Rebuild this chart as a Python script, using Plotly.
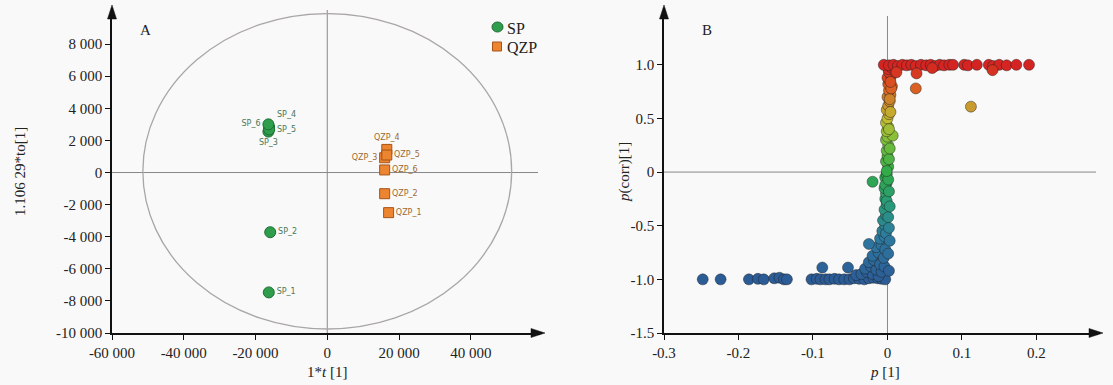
import plotly.graph_objects as go

W, H = 1113, 385

# ---------------- Panel A data ----------------
sp_names = ["SP_1", "SP_2", "SP_3", "SP_4", "SP_5", "SP_6"]
sp_t = [-16300, -15900, -16400, -16200, -16200, -16400]
sp_to = [-7470, -3720, 2550, 2830, 2680, 3000]
sp_textpos = ["middle right", "middle right", "bottom center", "top right", "middle right", "middle left"]

qzp_names = ["QZP_1", "QZP_2", "QZP_3", "QZP_4", "QZP_5", "QZP_6"]
qzp_t = [17100, 16000, 16000, 16600, 16600, 16000]
qzp_to = [-2500, -1320, 920, 1440, 1090, 160]
qzp_textpos = ["middle right", "middle right", "middle left", "top center", "middle right", "middle right"]

a_xticks = [-60000, -40000, -20000, 0, 20000, 40000]
a_xticklabels = ["-60 000", "-40 000", "-20 000", "0", "20 000", "40 000"]
a_yticks = [-10000, -8000, -6000, -4000, -2000, 0, 2000, 4000, 6000, 8000]
a_yticklabels = ["-10 000", "-8 000", "-6 000", "-4 000", "-2 000", "0", "2 000", "4 000", "6 000", "8 000"]

# ---------------- Panel B data (S-plot) ----------------
p_bottom = [-0.248, -0.224, -0.186, -0.174, -0.166, -0.152, -0.145, -0.139, -0.135,
            -0.102, -0.095, -0.090, -0.083, -0.078, -0.071, -0.065, -0.058, -0.051,
            -0.045, -0.038, -0.031, -0.025, -0.019, -0.013, -0.008, -0.003]
pc_bottom = [-1.0, -1.0, -1.0, -0.995, -1.0, -0.99, -0.985, -1.0, -1.0,
             -1.0, -0.995, -1.0, -1.0, -1.0, -0.995, -1.0, -1.0, -1.0,
             -0.99, -0.995, -1.0, -0.99, -0.985, -0.99, -0.995, -1.0]

p_low = [-0.0875, -0.053, -0.042, -0.035, -0.028, -0.020, -0.012, -0.030, -0.022, -0.015,
         -0.008, -0.025, -0.018, -0.010, -0.004, -0.020, -0.012, -0.005, -0.015, -0.025,
         -0.008, -0.003, -0.010, -0.004, -0.007, -0.003, -0.006, -0.002, -0.004, -0.001,
         -0.003, -0.002, -0.004, -0.001, -0.003, -0.001, -0.020, -0.002, -0.001, -0.003,
         0.002, 0.001, 0.003, 0.002, 0.001, 0.003, 0.002, 0.001]
pc_low = [-0.89, -0.89, -0.96, -0.95, -0.93, -0.95, -0.97, -0.90, -0.88, -0.91,
          -0.93, -0.84, -0.82, -0.86, -0.88, -0.78, -0.75, -0.80, -0.70, -0.67,
          -0.68, -0.72, -0.62, -0.60, -0.55, -0.50, -0.45, -0.40, -0.35, -0.30,
          -0.25, -0.20, -0.15, -0.10, -0.05, -0.02, -0.09, -0.57, -0.27, -0.12,
          -0.92, -0.76, -0.64, -0.52, -0.42, -0.32, -0.18, -0.07]

p_high = [0.001, -0.002, 0.000, -0.001, 0.001, -0.002, 0.000, 0.007, -0.001, 0.001,
          -0.002, 0.000, 0.002, -0.001, 0.001, 0.003, 0.000, 0.004, 0.002, 0.006,
          0.001, 0.003, 0.000, 0.005, 0.002, 0.008, 0.001, 0.004, -0.001, 0.002,
          0.003, 0.002, 0.004, 0.003, 0.005, 0.004]
pc_high = [0.05, 0.10, 0.15, 0.20, 0.25, 0.30, 0.33, 0.34, 0.38, 0.42,
           0.46, 0.50, 0.54, 0.58, 0.62, 0.66, 0.70, 0.72, 0.76, 0.80,
           0.82, 0.86, 0.88, 0.90, 0.93, 0.95, 0.96, 0.98, 0.01, 0.12,
           0.22, 0.40, 0.56, 0.68, 0.78, 0.84]

p_top = [-0.005, 0.002, 0.008, 0.014, 0.020, 0.026, 0.032, 0.038, 0.045, 0.052,
         0.058, 0.064, 0.070, 0.076, 0.083, 0.088, 0.103, 0.108, 0.120, 0.136,
         0.142, 0.150, 0.160, 0.173, 0.190, 0.039, 0.141, 0.060, 0.012, 0.038, 0.112]
pc_top = [1.0, 0.995, 1.0, 0.99, 1.0, 0.995, 1.0, 0.99, 1.0, 0.995,
          1.0, 0.99, 1.0, 0.995, 1.0, 1.0, 1.0, 0.995, 1.0, 1.0,
          0.99, 1.0, 0.995, 1.0, 1.0, 0.92, 0.95, 0.97, 0.93, 0.78, 0.61]

b_xticks = [-0.3, -0.2, -0.1, 0, 0.1, 0.2]
b_xticklabels = ["-0.3", "-0.2", "-0.1", "0", "0.1", "0.2"]
b_yticks = [-1.5, -1.0, -0.5, 0, 0.5, 1.0]
b_yticklabels = ["-1.5", "-1.0", "-0.5", "0", "0.5", "1.0"]

legend_names = ["SP", "QZP"]

p_all = p_bottom + p_low + p_high + p_top
pc_all = pc_bottom + pc_low + pc_high + pc_top

# ---------------- geometry helpers ----------------
def px(x):
    return x / W

def py(y):
    return (H - y) / H

SERIF = "Liberation Serif"
TICKFONT = dict(family=SERIF, size=15, color="#222")

fig = go.Figure()

# Panel A traces
fig.add_trace(go.Scatter(
    x=sp_t, y=sp_to, mode="markers+text", name=legend_names[0], showlegend=False,
    text=sp_names, textposition=sp_textpos,
    textfont=dict(family="DejaVu Sans", size=8, color="#4a7858"),
    marker=dict(symbol="circle", size=11, color="#2f9e4c", line=dict(color="#1d6b33", width=1)),
    xaxis="x", yaxis="y"))
fig.add_trace(go.Scatter(
    x=qzp_t, y=qzp_to, mode="markers+text", name=legend_names[1], showlegend=False,
    text=qzp_names, textposition=qzp_textpos,
    textfont=dict(family="DejaVu Sans", size=8, color="#a06a30"),
    marker=dict(symbol="square", size=10, color="#ec8430", line=dict(color="#a65418", width=1)),
    xaxis="x", yaxis="y"))

# Panel B trace
colorscale = [
    [0.0, "#2c5c96"], [0.2, "#2d7aa0"], [0.35, "#2a9a78"], [0.5, "#30aa48"],
    [0.65, "#7cc03a"], [0.75, "#c2bc30"], [0.83, "#cc8a2c"], [0.9, "#dc5a22"], [1.0, "#d42422"]]
fig.add_trace(go.Scatter(
    x=p_all, y=pc_all, mode="markers", showlegend=False,
    marker=dict(size=11, color=pc_all, cmin=-1, cmax=1, colorscale=colorscale,
                line=dict(color="rgba(30,30,30,0.45)", width=1)),
    xaxis="x2", yaxis="y2"))

a_xdom = [px(112), px(540)]
b_xdom = [px(664), px(1098)]
ydom = [py(333), py(13)]

axis_common = dict(showgrid=False, zeroline=False, showline=True, linecolor="#111", linewidth=1.5,
                   ticks="outside", ticklen=5, tickcolor="#111", tickwidth=1.2, tickfont=TICKFONT,
                   automargin=False)

fig.update_layout(
    width=W, height=H, margin=dict(l=0, r=0, t=0, b=0, autoexpand=False),
    font=dict(family=SERIF, size=15, color="#222"),
    paper_bgcolor="#f9f9f9", plot_bgcolor="#f9f9f9",
    xaxis=dict(domain=a_xdom, range=[-60000, 59300], tickvals=a_xticks, ticktext=a_xticklabels,
               anchor="y", **axis_common),
    yaxis=dict(domain=ydom, range=[-10000, 9940], tickvals=a_yticks, ticktext=a_yticklabels,
               anchor="x", **axis_common),
    xaxis2=dict(domain=b_xdom, range=[-0.3, 0.2826], tickvals=b_xticks, ticktext=b_xticklabels,
                anchor="y2", **axis_common),
    yaxis2=dict(domain=ydom, range=[-1.5, 1.483], tickvals=b_yticks, ticktext=b_yticklabels,
                anchor="x2", **axis_common),
    showlegend=False,
)

shapes = []
# Panel A ellipse
shapes.append(dict(type="circle", xref="x", yref="y", x0=-51400, x1=51400, y0=-9750, y1=9900,
                   line=dict(color="#aaa6a8", width=1.3), layer="below"))
# zero lines A
shapes.append(dict(type="line", xref="x", yref="paper", x0=0, x1=0, y0=py(333), y1=py(10),
                   line=dict(color="#888", width=1), layer="below"))
shapes.append(dict(type="line", xref="paper", yref="y", x0=px(112), x1=px(538), y0=0, y1=0,
                   line=dict(color="#888", width=1), layer="below"))
# zero lines B
shapes.append(dict(type="line", xref="x2", yref="paper", x0=0, x1=0, y0=py(333), y1=py(16),
                   line=dict(color="#888", width=1), layer="below"))
shapes.append(dict(type="line", xref="paper", yref="y2", x0=px(664), x1=px(1096), y0=0, y1=0,
                   line=dict(color="#888", width=1), layer="below"))

def tri_up(x, y_tip):
    return dict(type="path", xref="paper", yref="paper",
                path=f"M {px(x)},{py(y_tip)} L {px(x-4.5)},{py(y_tip+14)} L {px(x+4.5)},{py(y_tip+14)} Z",
                fillcolor="#111", line=dict(color="#111", width=0.5))

def tri_right(x_tip, y):
    return dict(type="path", xref="paper", yref="paper",
                path=f"M {px(x_tip)},{py(y)} L {px(x_tip-14)},{py(y-4.5)} L {px(x_tip-14)},{py(y+4.5)} Z",
                fillcolor="#111", line=dict(color="#111", width=0.5))

shapes += [tri_up(112, 5), tri_right(545, 333), tri_up(664, 5), tri_right(1103, 333)]

# manual legend marks
shapes.append(dict(type="circle", xref="paper", yref="paper",
                   x0=px(492), x1=px(503), y0=py(32), y1=py(22),
                   fillcolor="#2f9e4c", line=dict(color="#1d6b33", width=1)))
shapes.append(dict(type="rect", xref="paper", yref="paper",
                   x0=px(492.5), x1=px(501.5), y0=py(51), y1=py(42),
                   fillcolor="#ec8430", line=dict(color="#a65418", width=1)))
fig.update_layout(shapes=shapes)

def ann(text, x, y, size=15, xanchor="center", angle=0):
    return dict(text=text, x=px(x), y=py(y), xref="paper", yref="paper", showarrow=False,
                xanchor=xanchor, yanchor="middle", textangle=angle,
                font=dict(family=SERIF, size=size, color="#222"))

annotations = [
    ann(legend_names[0], 505, 28, 16, "left"),
    ann(legend_names[1], 505, 47, 16, "left"),
    ann("A", 145, 30),
    ann("B", 707, 30),
    ann("1*<i>t</i> [1]", 327, 372),
    ann("1.106 29*to[1]", 20, 172, angle=-90),
    ann("<i>p</i> [1]", 885, 372),
    ann("<i>p</i>(corr)[1]", 624, 172, angle=-90),
]
fig.update_layout(annotations=annotations)

fig.write_html("out.html")
